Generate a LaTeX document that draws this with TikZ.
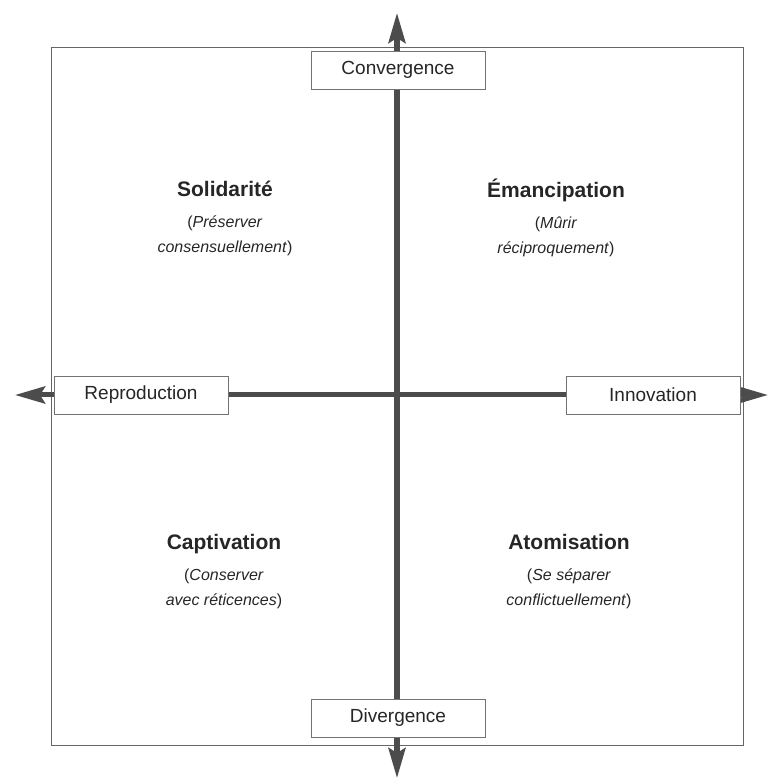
\documentclass[tikz,border=0pt]{standalone}
\usepackage{fontspec}
\setmainfont{Liberation Sans}
\usetikzlibrary{arrows.meta}

\tikzset{
  lab/.style={draw=black!55, line width=0.8pt, fill=white, minimum width=174pt,
    minimum height=38pt, inner sep=0pt, font=\fontsize{19}{22}\selectfont, text=black!85},
  quad/.style={align=center, font=\fontsize{16}{25}\selectfont, text=black!85},
  axis/.style={line width=5pt, black!70,
    {Stealth[length=30pt,width=17pt,inset=5pt]}-{Stealth[length=30pt,width=17pt,inset=5pt]}}
}
\newcommand{\quadtitle}[1]{{\fontsize{21}{25}\selectfont\bfseries #1}}

\begin{document}
\begin{tikzpicture}[x=1pt,y=1pt]
\useasboundingbox (-397,-384) rectangle (372,395);
% outer frame
\draw[black!60, line width=0.9pt] (-346,-350) rectangle (346,348);

% the two axes
\coordinate (top) at (0,382);
\coordinate (bottom) at (0,-383);
\coordinate (left) at (-382,0);
\coordinate (right) at (371,0);
\draw[axis] (left) -- (right);
\draw[axis] (bottom) -- (top);

% axis ends
\node[lab] (conv) at (1,325) {Convergence};
\node[lab] (div) at (1,-323) {Divergence};
\node[lab] (repro) at (-256,0) {Reproduction};
\node[lab] (innov) at (256,0) {Innovation};

% the four quadrants
\node[quad] (sol) at (-172,177)
  {\quadtitle{Solidarité}\\[6pt] (\textit{Préserver}\\ \textit{consensuellement})};
\node[quad] (eman) at (159,177)
  {\quadtitle{Émancipation}\\[6pt] (\textit{Mûrir}\\ \textit{réciproquement})};
\node[quad] (capt) at (-173,-177)
  {\quadtitle{Captivation}\\[6pt] (\textit{Conserver}\\ \textit{avec réticences})};
\node[quad] (atom) at (172,-177)
  {\quadtitle{Atomisation}\\[6pt] (\textit{Se séparer}\\ \textit{conflictuellement})};
\end{tikzpicture}
\end{document}
